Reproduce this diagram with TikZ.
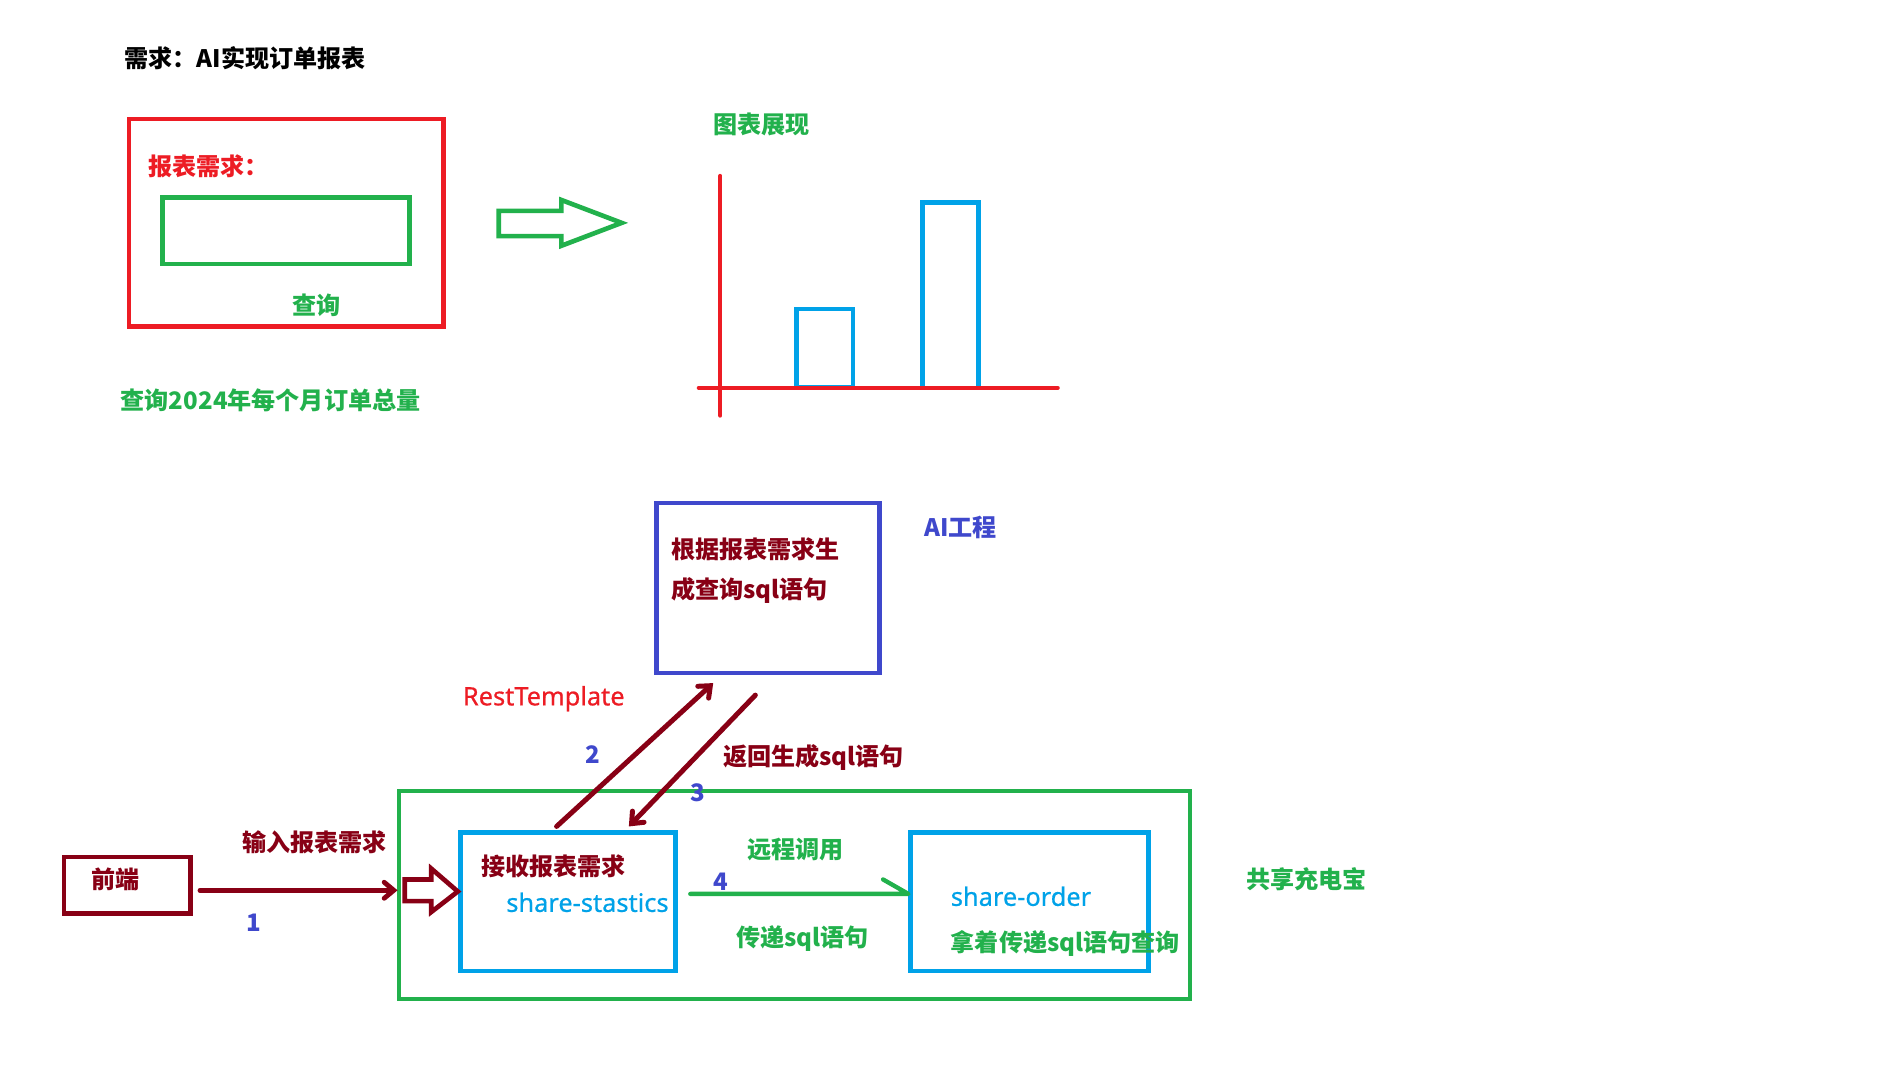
\documentclass[tikz,border=0pt]{standalone}
\usepackage{fontspec}
\setmainfont{Noto Sans CJK SC}
\newfontfamily\latfont[FakeBold=0.6]{Noto Sans}
\usetikzlibrary{arrows.meta}
\definecolor{cred}{HTML}{ED1C24}
\definecolor{cgreen}{HTML}{22B14C}
\definecolor{cblue}{HTML}{00A2E8}
\definecolor{cdred}{HTML}{880015}
\definecolor{cindigo}{HTML}{3F48CC}
\begin{document}
\begin{tikzpicture}[x=0.75pt,y=-0.75pt,
  txt/.style={font=\bfseries\fontsize{15pt}{18pt}\selectfont, inner sep=0pt, anchor=west},
  ltxt/.style={font=\latfont\fontsize{15.8pt}{18pt}\selectfont, inner sep=0pt, anchor=west},
  box/.style={draw, inner sep=0pt, fill=none},
  barb/.style={-{Straight Barb[length=6pt,width=10pt,line cap=round]}, line cap=round}
]
\useasboundingbox (0,0) rectangle (1568,890.7);
\fill[white] (0,0) rectangle (1568,890.7);

% ---------- top section ----------
\node[txt, text=black] (title) at (103,48) {需求：AI实现订单报表};

\node[box, draw=cred, line width=2.7pt, minimum width=195.75pt, minimum height=129pt] (redbox) at (237.5,185) {};
\node[txt, text=cred] (rlabel) at (123,138) {报表需求：};
\node[box, draw=cgreen, line width=2.7pt, minimum width=153.75pt, minimum height=41.25pt] (input) at (237.5,191.5) {};
\node[txt, text=cgreen, anchor=center] (query) at (263,253) {查询};
\node[txt, text=cgreen] (example) at (100,332) {查询2024年每个月订单总量};

% hollow green arrow
\draw[cgreen, line width=2.9pt, line join=miter]
  (414,175) -- (466,175) -- (466,166) -- (516,185) -- (466,204) -- (466,196) -- (414,196) -- cycle;

% chart
\node[txt, text=cgreen] (chartlabel) at (592,103) {图表展现};
\coordinate (ytop) at (598,146);
\coordinate (ybot) at (598,345);
\coordinate (xl) at (580,322);
\coordinate (xr) at (878,322);
\draw[cred, line width=2.5pt, line cap=round] (ytop) -- (ybot);
\node[box, draw=cblue, line width=2.9pt, minimum width=35.25pt, minimum height=48.75pt] (bar1) at (684.5,289) {};
\node[box, draw=cblue, line width=2.9pt, minimum width=34.5pt, minimum height=115.5pt] (bar2) at (789,245) {};
\draw[cred, line width=2.5pt, line cap=round] (xl) -- (xr);

% ---------- bottom section ----------
\node[box, draw=cindigo, line width=2.85pt, minimum width=138.75pt, minimum height=105.75pt] (aibox) at (637.5,488) {};
\node[txt, text=cdred] (ai1) at (557,456) {根据报表需求生};
\node[txt, text=cdred] (ai2) at (557,490) {成查询sql语句};
\node[txt, text=cindigo] (ailabel) at (767,438) {AI工程};

\node[ltxt, text=cred] (rest) at (384,580) {RestTemplate};

\node[box, draw=cgreen, line width=2.5pt, minimum width=492pt, minimum height=129.75pt] (bigbox) at (659.5,743) {};
\node[txt, text=cgreen] (bigl) at (1034,730) {共享充电宝};

\node[box, draw=cdred, line width=2.9pt, minimum width=78.75pt, minimum height=35.25pt] (front) at (105.5,735) {};
\node[txt, text=cdred] (frontl) at (76,730) {前端};

\node[box, draw=cblue, line width=2.9pt, minimum width=133.5pt, minimum height=86.25pt] (stat) at (471.5,748.5) {};
\node[txt, text=cdred] (statl1) at (399,719) {接收报表需求};
\node[ltxt, text=cblue] (statl2) at (420,749) {share-stastics};

\node[box, draw=cblue, line width=2.9pt, minimum width=148.5pt, minimum height=86.25pt] (order) at (854.5,748.5) {};
\node[ltxt, text=cblue] (orderl1) at (789,744) {share-order};
\node[txt, text=cgreen] (orderl2) at (789,783) {拿着传递sql语句查询};

% arrow 1: front -> big box
\coordinate (a1s) at (166,739);
\coordinate (a1e) at (330,739);
\draw[cdred, line width=3pt, barb] (a1s) -- (a1e);
\node[txt, text=cdred] (a1l) at (201,699) {输入报表需求};
\node[txt, text=cindigo, anchor=center] (n1) at (211,766) {1};

% hollow dark red arrow into stat
\draw[cdred, line width=2.9pt, line join=miter]
  (336,730) -- (358,730) -- (358,721) -- (380,740) -- (358,757) -- (358,748) -- (336,748) -- cycle;

% arrow 2: stat -> ai
\coordinate (a2s) at (462,686);
\coordinate (a2e) at (592,567);
\draw[cdred, line width=3.1pt, barb] (a2s) -- (a2e);
\node[txt, text=cindigo, anchor=center] (n2) at (492,626) {2};

% arrow 3: ai -> stat
\coordinate (a3s) at (627,577);
\coordinate (a3e) at (522,686);
\draw[cdred, line width=3.1pt, barb] (a3s) -- (a3e);
\node[txt, text=cdred] (a3l) at (600,629) {返回生成sql语句};
\node[txt, text=cindigo, anchor=center] (n3) at (579,658) {3};

% arrow 4: stat -> order
\coordinate (a4s) at (573,742);
\coordinate (a4e) at (754,742);
\coordinate (a4b) at (733,730);
\draw[cgreen, line width=2.7pt, line cap=round, line join=round] (a4s) -- (a4e) -- (a4b);
\node[txt, text=cgreen] (a4l1) at (620,705) {远程调用};
\node[txt, text=cindigo, anchor=center] (n4) at (598,732) {4};
\node[txt, text=cgreen] (a4l2) at (611,779) {传递sql语句};

\end{tikzpicture}
\end{document}
